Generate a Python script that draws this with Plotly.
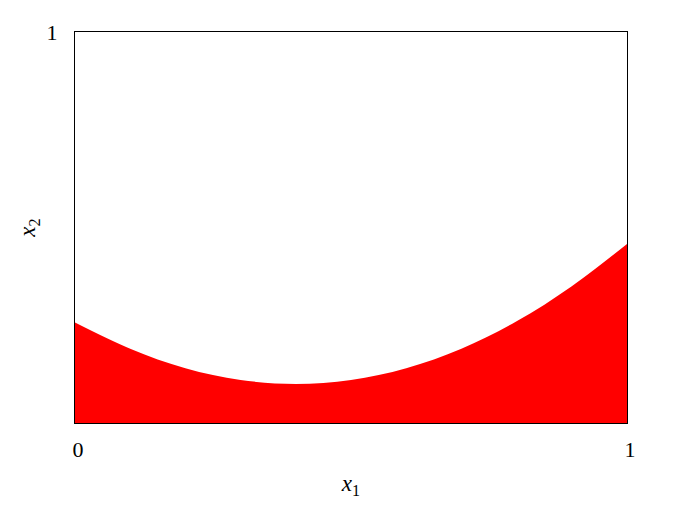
import plotly.graph_objects as go

# boundary of the red region
x1_vals = [0.0, 0.1, 0.2, 0.3, 0.4, 0.5, 0.6, 0.7, 0.8, 0.9, 1.0]
x2_vals = [0.257, 0.19, 0.14, 0.11, 0.10, 0.11, 0.14, 0.19, 0.26, 0.35, 0.458]

x_ticks = [0, 1]
x_tick_text = ["0", "1"]
y_ticks = [1]
y_tick_text = ["1"]

SERIF = "Liberation Serif, DejaVu Serif, serif"

fig = go.Figure()
fig.add_trace(
    go.Scatter(
        x=x1_vals,
        y=x2_vals,
        mode="lines",
        line=dict(width=0, color="#ff0000", shape="spline", smoothing=1.0),
        fill="tozeroy",
        fillcolor="#ff0000",
        hoverinfo="skip",
        showlegend=False,
    )
)

axis_common = dict(
    showgrid=False,
    zeroline=False,
    showline=True,
    linecolor="black",
    linewidth=1.3,
    mirror=True,
    ticks="",
    automargin=False,
    tickfont=dict(family=SERIF, size=22, color="black"),
)

# the page body adds an 8px offset, so the figure is drawn 8px smaller
fig.update_layout(
    width=669,
    height=497,
    margin=dict(l=67, r=50, t=24, b=82),
    plot_bgcolor="white",
    paper_bgcolor="white",
    xaxis=dict(
        range=[0, 1],
        tickvals=x_ticks,
        ticktext=x_tick_text,
        ticklabelstandoff=6,
        ticklabelshift=3,
        title=dict(
            text="<i>x</i><sub>1</sub>",
            font=dict(family=SERIF, size=23, color="black"),
            standoff=14,
        ),
        **axis_common,
    ),
    yaxis=dict(
        range=[0, 1],
        tickvals=y_ticks,
        ticktext=y_tick_text,
        ticklabelstandoff=12,
        title=dict(
            text="<i>x</i><sub>2</sub>",
            font=dict(family=SERIF, size=23, color="black"),
            standoff=4,
        ),
        **axis_common,
    ),
)

fig.write_html("out.html")
